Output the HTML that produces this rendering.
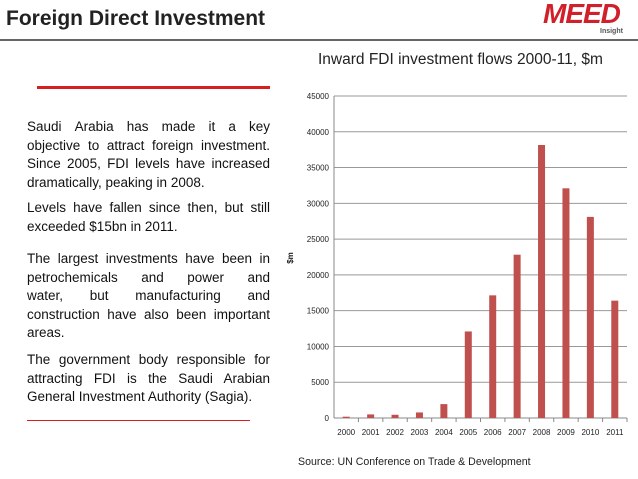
<!DOCTYPE html>
<html><head><meta charset="utf-8">
<style>
body{margin:0;width:638px;height:479px;background:#fff;font-family:"Liberation Sans",Arial,sans-serif;position:relative;overflow:hidden}
.p{position:absolute;left:27px;width:243px;font-size:13.5px;line-height:18.5px;color:#111;margin:0}
.p span{display:block;text-align:justify;text-align-last:justify;white-space:nowrap}
.p span.l{text-align-last:left}
</style></head><body>
<div style="position:absolute;left:6px;top:7px;font-size:21px;font-weight:bold;color:#222">Foreign Direct Investment</div>
<div style="position:absolute;left:543px;top:-2px;font-size:28px;font-weight:bold;color:#d0202a;letter-spacing:-1px;font-style:italic">MEED</div>
<div style="position:absolute;left:600px;top:28px;font-size:7px;font-weight:bold;color:#555">Insight</div>
<div style="position:absolute;left:0;top:39px;width:638px;height:2px;background:#666"></div>
<div style="position:absolute;left:37px;top:86px;width:233px;height:3px;background:#d42020"></div>
<div class="p" style="top:118px"><span style="white-space:normal;word-spacing:0">Saudi&nbsp;Arabia&nbsp;has&nbsp;made&nbsp;it&nbsp;a&nbsp;key</span><span>objective to attract foreign investment.</span><span>Since 2005, FDI levels have increased</span><span class="l">dramatically, peaking in 2008.</span></div>
<div class="p" style="top:199px"><span>Levels have fallen since then, but still</span><span class="l">exceeded $15bn in 2011.</span></div>
<div class="p" style="top:250px"><span>The largest investments have been in</span><span>petrochemicals and power and</span><span>water, but manufacturing and</span><span>construction have also been important</span><span class="l">areas.</span></div>
<div class="p" style="top:351px"><span>The government body responsible for</span><span>attracting FDI is the Saudi Arabian</span><span class="l">General Investment Authority (Sagia).</span></div>
<div style="position:absolute;left:27px;top:420px;width:223px;height:1px;background:#d42020"></div>
<div style="position:absolute;left:318px;top:51px;font-size:15.5px;color:#222">Inward FDI investment flows 2000-11, $m</div>
<div style="position:absolute;left:298px;top:456px;font-size:10.6px;color:#222">Source: UN Conference on Trade &amp; Development</div>
<svg id="c" width="638" height="479" style="position:absolute;left:0;top:0"></svg>
<script>
const years=["2000","2001","2002","2003","2004","2005","2006","2007","2008","2009","2010","2011"];
const values=[183,504,453,778,1942,12097,17140,22821,38151,32100,28105,16400];
const ticks=[0,5000,10000,15000,20000,25000,30000,35000,40000,45000];
const svg=document.getElementById('c');const NS='http://www.w3.org/2000/svg';
const x0=334,x1=627,yb=418,yt=96,ymax=45000;
const y=v=>yb-(v/ymax)*(yb-yt);
const cw=(x1-x0)/years.length;
const xc=i=>x0+cw*(i+0.5);
function mk(t,a){const e=document.createElementNS(NS,t);for(const k in a)e.setAttribute(k,a[k]);svg.appendChild(e);return e;}
ticks.forEach(t=>{
 const g=mk('line',{x1:x0,x2:x1,y1:y(t),y2:y(t),stroke:t===0?'#888':'#999','stroke-width':1});
 
 
 const l=mk('text',{x:x0-5,y:y(t)+3,'font-size':8,'text-anchor':'end',fill:'#222','font-family':'Liberation Sans'});
 l.textContent=t;
 
 
});
const ax=mk('line',{x1:x0,x2:x0,y1:yt,y2:yb,stroke:'#888'});


years.forEach((yr,i)=>{
 const tk=mk('line',{x1:x0+cw*(i+1),x2:x0+cw*(i+1),y1:yb,y2:yb+4,stroke:'#888'});
 
 
 const b=mk('rect',{x:xc(i)-3.5,y:y(values[i]),width:7,height:yb-y(values[i]),fill:'#c0504d'});
 
 
 const l=mk('text',{x:xc(i),y:yb+17,'font-size':8,'text-anchor':'middle',fill:'#222','font-family':'Liberation Sans'});
 l.textContent=yr;
 
 
});
const yl=mk('text',{x:0,y:0,'font-size':8,'font-weight':'bold','text-anchor':'middle',fill:'#222',transform:'translate(293,258) rotate(-90)','font-family':'Liberation Sans'});
yl.textContent='$m';


</script>
</body></html>
